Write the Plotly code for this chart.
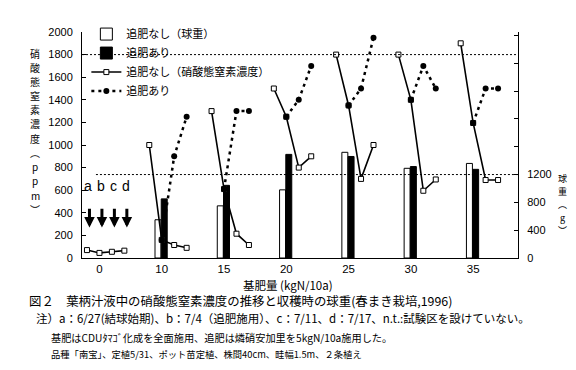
import plotly.graph_objects as go

# ---------------- data ----------------
groups = ["0", "10", "15", "20", "25", "30", "35"]          # 基肥量 (kgN/10a)
timepoints = ["a", "b", "c", "d"]                           # 6/27, 7/4, 7/11, 7/17

# 硝酸態窒素濃度 (ppm) 追肥なし
no_td_ppm = [
    [70, 45, 55, 65],
    [1000, 160, 115, 90],
    [1300, 610, 215, 115],
    [1500, 1250, 800, 900],
    [1800, 1350, 700, 1000],
    [1800, 1400, 595, 695],
    [1900, 1195, 690, 690],
]
# 硝酸態窒素濃度 (ppm) 追肥あり (starts at b)
td_ppm = [
    [None, None, None, None],
    [None, 160, 900, 1250],
    [None, 610, 1300, 1300],
    [None, 1250, 1400, 1700],
    [None, 1350, 1500, 1950],
    [None, 1400, 1700, 1500],
    [None, 1195, 1500, 1500],
]
# 球重 (g)
no_td_weight = [None, 550, 750, 980, 1520, 1290, 1360]
td_weight = [None, 850, 1045, 1490, 1460, 1315, 1275]

ppm_ref = 1800
weight_ref = 1200

left_title_chars = list("硝酸態窒素濃度") + ["︵", "p", "p", "m", "︶"]
right_title_chars = ["球", "重", "︵", "g", "︶"]

# ---------------- layout helpers ----------------
SLOT = 5  # 4 time points + gap per group
L, R, T, B = 74, 66, 24, 120
W, H = 576, 370
pw, ph = W - L - R, H - T - B


def px_x(px):
    return (px - L) / pw


def px_y(py):
    return (H - B - py) / ph


def series_xy(values):
    xs, ys = [], []
    for g, row in enumerate(values):
        for t, v in enumerate(row):
            xs.append(g * SLOT + t)
            ys.append(v)
        xs.append(None)
        ys.append(None)
    return xs, ys


fig = go.Figure()

bar_x_white = [g * SLOT + 0.7 for g in range(len(groups))]
bar_x_black = [g * SLOT + 1.2 for g in range(len(groups))]

fig.add_trace(go.Bar(
    x=bar_x_white, y=no_td_weight, width=0.48, yaxis="y",
    marker=dict(color="white", line=dict(color="black", width=1)),
    name="追肥なし（球重）",
))
fig.add_trace(go.Bar(
    x=bar_x_black, y=td_weight, width=0.48, yaxis="y",
    marker=dict(color="black", line=dict(color="black", width=1)),
    name="追肥あり",
))

xs, ys = series_xy(no_td_ppm)
fig.add_trace(go.Scatter(
    x=xs, y=ys, yaxis="y2", mode="lines+markers",
    line=dict(color="black", width=1.6),
    marker=dict(symbol="square", size=5, color="white",
                line=dict(color="black", width=1)),
    name="追肥なし（硝酸態窒素濃度）", connectgaps=False,
))
xs, ys = series_xy(td_ppm)
fig.add_trace(go.Scatter(
    x=xs, y=ys, yaxis="y2", mode="lines+markers",
    line=dict(color="black", width=2.5, dash="3px,4px"),
    marker=dict(symbol="circle", size=6, color="black"),
    name="追肥あり", connectgaps=False,
))

# reference dotted lines
fig.add_shape(type="line", xref="paper", x0=0, x1=1, yref="y2",
              y0=ppm_ref, y1=ppm_ref, line=dict(color="black", width=1, dash="2px,2px"))
fig.add_shape(type="line", xref="paper", x0=0.032, x1=1, yref="y",
              y0=weight_ref, y1=weight_ref, line=dict(color="black", width=1, dash="2px,2px"))

annotations = []
# arrows a-d with letters
for t, lab in enumerate(timepoints):
    annotations.append(dict(
        x=t + 0.2, y=270, xref="x", yref="y2",
        ax=t + 0.2, ay=450, axref="x", ayref="y2",
        showarrow=True, arrowhead=2, arrowwidth=3, arrowsize=0.7,
        arrowcolor="black", text="",
    ))
    annotations.append(dict(
        x=t + 0.1, y=640, xref="x", yref="y2", text=lab, showarrow=False,
        font=dict(family="Liberation Sans", size=14, color="black"),
    ))

jp = "Noto Sans CJK JP"
for i, ch in enumerate(left_title_chars):
    annotations.append(dict(
        x=px_x(27), y=px_y(45 + i * 14.2), xref="paper", yref="paper",
        text=ch, showarrow=False, font=dict(family=jp, size=10, color="black"),
        xanchor="center", yanchor="middle", borderpad=0))
for i, ch in enumerate(right_title_chars):
    annotations.append(dict(
        x=px_x(554), y=px_y(170 + i * 13.2), xref="paper", yref="paper",
        text=ch, showarrow=False, font=dict(family=jp, size=9, color="black"),
        xanchor="center", yanchor="middle", borderpad=0))

annotations.append(dict(
    x=px_x(280), y=px_y(277), xref="paper", yref="paper",
    text="基肥量 (kgN/10a)", showarrow=False,
    font=dict(family=jp, size=11.5, color="black"), xanchor="center", yanchor="middle"))

captions = [
    ("図２　葉柄汁液中の硝酸態窒素濃度の推移と収穫時の球重(春まき栽培,1996)", 19, 293, 12.4),
    ("注）a：6/27(結球始期)、b：7/4（追肥施用）、c：7/11、d：7/17、n.t.:試験区を設けていない。", 26, 310, 11.5),
    ("基肥はCDUﾀﾏｺﾞ化成を全面施用、追肥は燐硝安加里を5kgN/10a施用した。", 41, 329, 10.2),
    ("品種「南宝」、定植5/31、ポット苗定植、株間40cm、畦幅1.5m、２条植え", 41, 346, 9.3),
]
for text, px, py, fs in captions:
    annotations.append(dict(
        x=px_x(px), y=px_y(py), xref="paper", yref="paper",
        text=text, showarrow=False, xanchor="left", yanchor="middle",
        font=dict(family=jp, size=fs, color="black"),
    ))

tick_font = dict(family="Liberation Sans", size=11, color="black")
w_ticks = list(range(0, 3201, 400))

fig.update_layout(
    width=W, height=H,
    margin=dict(l=L, r=R, t=T, b=B),
    paper_bgcolor="white", plot_bgcolor="white",
    barmode="overlay",
    showlegend=True,
    legend=dict(x=0.01, y=1.055, xanchor="left", yanchor="top",
                bgcolor="rgba(0,0,0,0)", font=dict(family=jp, size=11, color="black"),
                tracegroupgap=0, itemwidth=30),
    xaxis=dict(range=[-0.4, 34.6], tickvals=[g * SLOT + 1.0 for g in range(len(groups))],
               ticktext=groups, showline=True, linecolor="black", linewidth=1,
               ticks="", showgrid=False, zeroline=False,
               tickfont=dict(family="Liberation Sans", size=11.5, color="black")),
    yaxis=dict(side="right", range=[0, 3250], tickvals=w_ticks,
               ticktext=[str(v) if v <= 1200 else "" for v in w_ticks],
               showline=True, linecolor="black", linewidth=1, ticks="inside", ticklen=4,
               tickcolor="black", showgrid=False, zeroline=False, tickfont=tick_font,
               ticklabelstandoff=6),
    yaxis2=dict(side="left", overlaying="y", range=[0, 2000], dtick=200,
                showline=True, linecolor="black", linewidth=1, ticks="inside", ticklen=4,
                tickcolor="black", showgrid=False, zeroline=False, tickfont=tick_font,
                ticklabelstandoff=6),
    annotations=annotations,
)

fig.write_html("out.html")
